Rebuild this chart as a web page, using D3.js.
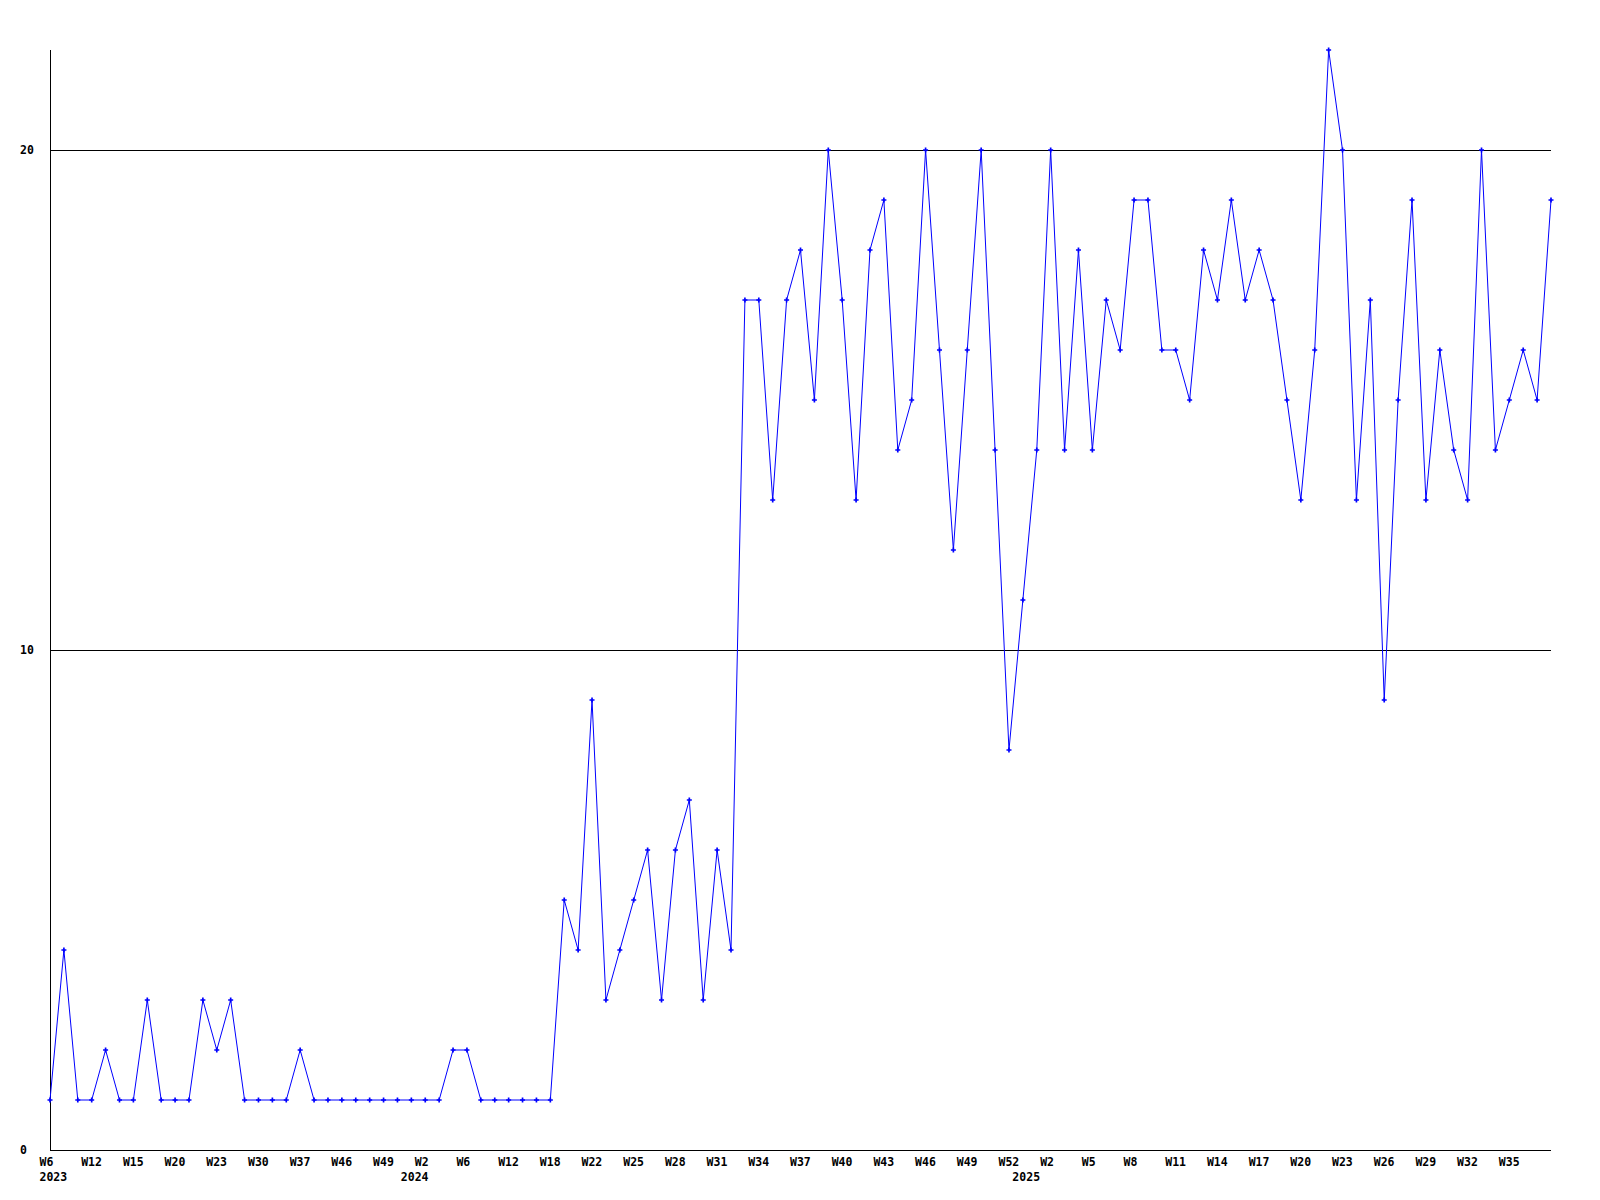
<!DOCTYPE html>
<html>
<head>
<meta charset="utf-8">
<script src="https://cdn.jsdelivr.net/npm/d3@7"></script>
<style>
  body { margin: 0; background: #fff; }
  text { font-family: 'DejaVu Sans Mono', monospace; font-weight: bold; font-size: 11.5px; fill: #000; }
</style>
</head>
<body>
<div class="container"></div>
<script>
// one point per week, in order
const weeks = [
  'W6', 'W8', 'W10', 'W12', 'W13', 'W14', 'W15', 'W17', 'W18', 'W20',
  'W21', 'W22', 'W23', 'W25', 'W28', 'W30', 'W33', 'W35', 'W37', 'W40',
  'W43', 'W46', 'W47', 'W48', 'W49', 'W50', 'W1', 'W2', 'W3', 'W4',
  'W6', 'W8', 'W10', 'W12', 'W14', 'W16', 'W18', 'W19', 'W20', 'W22',
  'W23', 'W24', 'W25', 'W26', 'W27', 'W28', 'W29', 'W30', 'W31', 'W32',
  'W33', 'W34', 'W35', 'W36', 'W37', 'W38', 'W39', 'W40', 'W41', 'W42',
  'W43', 'W44', 'W45', 'W46', 'W47', 'W48', 'W49', 'W50', 'W51', 'W52',
  'W0', 'W1', 'W2', 'W3', 'W4', 'W5', 'W6', 'W7', 'W8', 'W9',
  'W10', 'W11', 'W12', 'W13', 'W14', 'W15', 'W16', 'W17', 'W18', 'W19',
  'W20', 'W21', 'W22', 'W23', 'W24', 'W25', 'W26', 'W27', 'W28', 'W29',
  'W30', 'W31', 'W32', 'W33', 'W34', 'W35', 'W36', 'W37', 'W38',
];

const values = [
  1, 4, 1, 1, 2, 1, 1, 3, 1, 1, 1, 3, 2, 3, 1, 1, 1, 1, 2, 1,
  1, 1, 1, 1, 1, 1, 1, 1, 1, 2, 2, 1, 1, 1, 1, 1, 1,
  5, 4, 9, 3, 4, 5, 6, 3, 6, 7, 3, 6, 4,
  17, 17, 13, 17, 18, 15, 20, 17, 13, 18, 19, 14, 15, 20, 16, 12, 16, 20, 14, 8,
  11, 14, 20,
  14, 18, 14, 17, 16, 19, 19, 16, 16, 15, 18, 17, 19, 17, 18, 17, 15, 13, 16, 22,
  20, 13, 17, 9, 15, 19, 13, 16, 14, 13, 20, 14, 15, 16, 15, 19,
];

const years = ['2023', '2024', '2025'];
const yearStart = [0, 26, 70];
const yTicks = [0, 10, 20];

const width = 1600;
const height = 1200;
const plotLeft = 50;
const plotRight = 1551;
const plotTop = 50;
const plotBottom = 1150;

const svg = d3
  .select('.container')
  .append('svg')
  .attr('width', width)
  .attr('height', height);

svg.append('rect').attr('width', width).attr('height', height).attr('fill', '#fff');

const xScale = d3
  .scalePoint()
  .domain(d3.range(values.length))
  .range([plotLeft, plotRight]);

const yScale = d3.scaleLinear().domain([0, 22]).range([plotBottom, plotTop]);

// grid lines
svg
  .append('g')
  .attr('id', 'grid')
  .selectAll('line')
  .data(yTicks.filter((d) => d > 0))
  .enter()
  .append('line')
  .attr('x1', plotLeft)
  .attr('x2', plotRight)
  .attr('y1', (d) => Math.round(yScale(d)) + 0.5)
  .attr('y2', (d) => Math.round(yScale(d)) + 0.5)
  .attr('stroke', '#000')
  .attr('shape-rendering', 'crispEdges');

// axes lines
svg
  .append('line')
  .attr('x1', plotLeft + 0.5)
  .attr('x2', plotLeft + 0.5)
  .attr('y1', plotTop)
  .attr('y2', plotBottom)
  .attr('stroke', '#000')
  .attr('shape-rendering', 'crispEdges');
svg
  .append('line')
  .attr('x1', plotLeft)
  .attr('x2', plotRight)
  .attr('y1', plotBottom + 0.5)
  .attr('y2', plotBottom + 0.5)
  .attr('stroke', '#000')
  .attr('shape-rendering', 'crispEdges');

// y labels
svg
  .append('g')
  .attr('id', 'y-axis')
  .selectAll('text')
  .data(yTicks)
  .enter()
  .append('text')
  .attr('x', 20)
  .attr('y', (d) => yScale(d) + 4)
  .text((d) => d);

// week labels, every third point
const shown = d3.range(0, values.length, 3).filter((i) => i < values.length - 1);
svg
  .append('g')
  .attr('id', 'x-axis')
  .selectAll('text')
  .data(shown)
  .enter()
  .append('text')
  .attr('x', (i) => xScale(i) - 10.5)
  .attr('y', plotBottom + 16)
  .text((i) => weeks[i]);

svg
  .append('g')
  .attr('id', 'years')
  .selectAll('text')
  .data(years)
  .enter()
  .append('text')
  .attr('x', (d, i) => xScale(yearStart[i]) - 10.5)
  .attr('y', plotBottom + 31)
  .text((d) => d);

const line = d3
  .line()
  .x((d, i) => xScale(i))
  .y((d) => yScale(d));

svg
  .append('path')
  .datum(values)
  .attr('d', line)
  .attr('fill', 'none')
  .attr('stroke', '#0000ff')
  .attr('stroke-width', 1);

svg
  .append('g')
  .attr('id', 'markers')
  .selectAll('path')
  .data(values)
  .enter()
  .append('path')
  .attr('transform', (d, i) => `translate(${xScale(i)},${yScale(d)})`)
  .attr('d', d3.symbol().type(d3.symbolCross).size(14))
  .attr('fill', '#0000ff');
</script>
</body>
</html>
